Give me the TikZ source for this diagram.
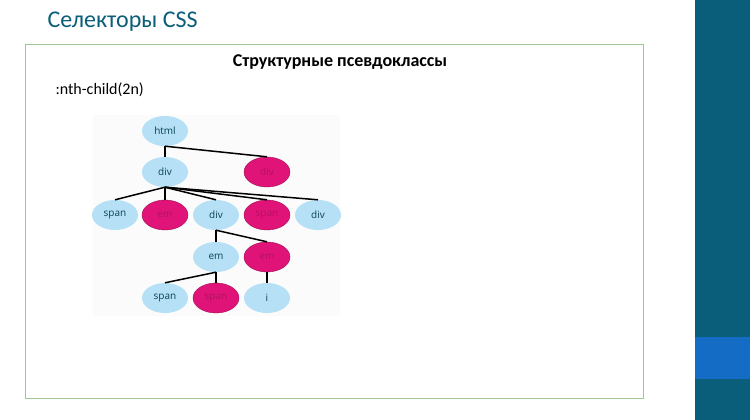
\documentclass[tikz,border=0pt]{standalone}
\usepackage{fontspec}
\setmainfont{Carlito}
\setsansfont{Open Sans}
\usetikzlibrary{positioning}
\definecolor{teal}{RGB}{11,94,122}
\definecolor{bandblue}{RGB}{20,108,196}
\definecolor{lightblue}{RGB}{182,224,245}
\definecolor{magentapink}{RGB}{224,20,120}
\definecolor{framegreen}{RGB}{160,200,150}
\tikzset{
  leaf/.style={ellipse,minimum width=46pt,minimum height=30pt,inner sep=0pt,font=\sffamily\fontsize{10}{10}\selectfont},
  blue/.style={leaf,fill=lightblue,text=teal!70!black},
  pink/.style={leaf,fill=magentapink,draw=magentapink!70!black,text=magentapink!80!black},
  edge/.style={line width=1.5pt,black}
}
\usetikzlibrary{shapes.geometric}
\begin{document}
\begin{tikzpicture}[x=1pt,y=1pt,yscale=-1]
\useasboundingbox (0,0) rectangle (750,420);
\fill[white] (0,0) rectangle (750,420);

%Side band
\fill[teal] (695,0) rectangle (750,420);
\fill[bandblue] (695,337) rectangle (750,379);

%Frame
\draw[framegreen,line width=0.8pt] (25,44) rectangle (643,398);

% Text Node
\node[anchor=west,text=teal,font=\fontsize{24}{24}\selectfont] (title) at (44,22) {Селекторы CSS};
\node[font=\bfseries\fontsize{18}{18}\selectfont] (head) at (340,62) {Структурные псевдоклассы};
\node[anchor=west,font=\fontsize{16}{16}\selectfont] (sel) at (52,90) {:nth-child(2n)};

%Tree
\fill[black!1.5] (93,115) rectangle (340,316);
\node[blue] (html) at (165,131) {html};
\node[blue] (div1) at (165,172) {div};
\node[pink] (div2) at (267,172) {div};
\node[blue] (span1) at (115,215) {span};
\node[pink] (em1) at (165,215) {em};
\node[blue] (div3) at (216,215) {div};
\node[pink] (span2) at (267,215) {span};
\node[blue] (div4) at (318,215) {div};
\node[blue] (em2) at (216,257) {em};
\node[pink] (em3) at (267,257) {em};
\node[blue] (span3) at (165,298) {span};
\node[pink] (span4) at (216,298) {span};
\node[blue] (i) at (267,298) {i};

\draw[edge] (html.south) -- (div1.north);
\draw[edge] (html.south) -- (div2.north);
\foreach \c in {span1,em1,div3,span2,div4}
  \draw[edge] (div1.south) -- (\c.north);
\draw[edge] (div3.south) -- (em2.north);
\draw[edge] (div3.south) -- (em3.north);
\draw[edge] (em2.south) -- (span3.north);
\draw[edge] (em2.south) -- (span4.north);
\draw[edge] (em3.south) -- (i.north);
\end{tikzpicture}
\end{document}
